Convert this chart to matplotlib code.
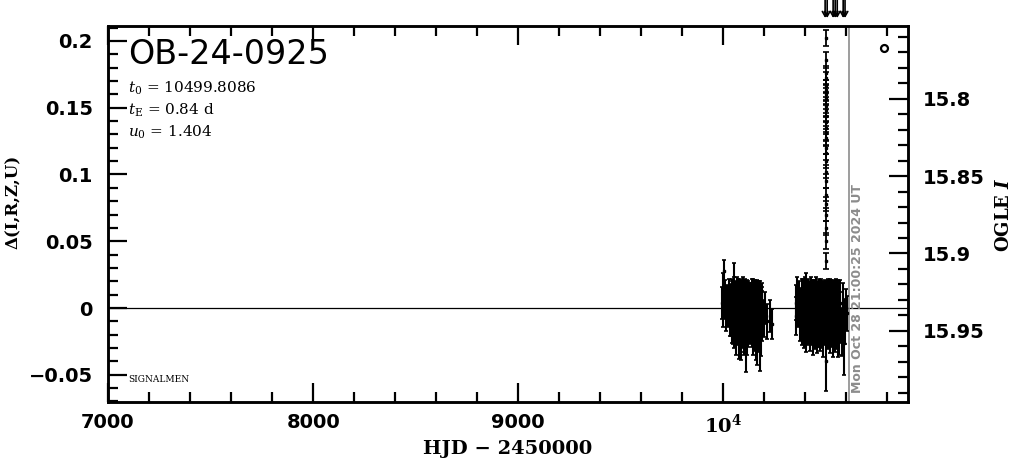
import matplotlib
matplotlib.use("Agg")
import matplotlib.pyplot as plt
import matplotlib.transforms as mtransforms
from matplotlib.ticker import MultipleLocator, FixedLocator, FixedFormatter

plt.rcParams['mathtext.fontset'] = 'dejavuserif'

# ---- data ----
# 2023 season
s1_early_t = [9993, 9996, 9999, 10003, 10006, 10010, 10014, 10018, 10022, 10026, 10030]
s1_early_d = [0.004, 0.012, -0.003, 0.028, 0.002, 0.008, -0.005, 0.006, 0.000, 0.010, -0.008]
s1_early_e = [0.012, 0.014, 0.011, 0.008, 0.010, 0.013, 0.012, 0.011, 0.014, 0.012, 0.013]

s1_main_t = [10036, 10038, 10040, 10042, 10044, 10046, 10048, 10050, 10052, 10054,
             10056, 10058, 10060, 10062, 10064, 10066, 10068, 10070, 10072, 10074,
             10076, 10078, 10080, 10082, 10084, 10086, 10088, 10090, 10092, 10094,
             10096, 10098, 10100, 10102, 10104, 10106, 10108, 10110, 10112, 10114,
             10116, 10118, 10120, 10122, 10124, 10126, 10128, 10130, 10132, 10134,
             10136, 10138, 10140, 10142, 10144, 10146, 10148, 10150, 10152, 10154,
             10156, 10158, 10160, 10162, 10164, 10166, 10168, 10170, 10172, 10174,
             10176, 10178, 10180, 10182, 10184, 10186, 10188, 10190]
s1_main_d = [0.002, -0.003, 0.005, -0.006, 0.001, -0.009, 0.004, 0.012, -0.011, 0.006,
             -0.005, 0.000, -0.013, 0.003, -0.007, 0.007, -0.002, -0.010, 0.005, -0.015,
             -0.004, 0.002, -0.008, 0.006, -0.012, -0.001, -0.017, 0.004, -0.006, -0.010,
             0.007, -0.003, -0.014, 0.002, -0.008, 0.004, -0.011, -0.020, -0.006, 0.005,
             -0.013, -0.003, 0.003, -0.009, 0.001, -0.005, 0.003, -0.007, -0.002, 0.002,
             -0.004, -0.009, 0.005, -0.013, -0.002, 0.006, -0.007, -0.011, 0.001, -0.005,
             0.004, -0.016, -0.003, 0.005, -0.008, -0.018, -0.012, 0.003, -0.006, 0.002,
             -0.010, 0.004, -0.020, -0.014, 0.001, -0.006, 0.003, -0.002]
s1_main_e = [0.016, 0.018, 0.017, 0.020, 0.019, 0.018, 0.016, 0.022, 0.019, 0.017,
             0.020, 0.018, 0.022, 0.017, 0.019, 0.016, 0.021, 0.018, 0.017, 0.023,
             0.018, 0.019, 0.020, 0.016, 0.021, 0.018, 0.022, 0.017, 0.019, 0.020,
             0.016, 0.018, 0.021, 0.019, 0.017, 0.018, 0.020, 0.028, 0.018, 0.016,
             0.022, 0.019, 0.017, 0.020, 0.018, 0.019, 0.016, 0.020, 0.018, 0.017,
             0.019, 0.020, 0.017, 0.022, 0.018, 0.016, 0.020, 0.021, 0.018, 0.019,
             0.017, 0.023, 0.018, 0.016, 0.020, 0.025, 0.021, 0.017, 0.019, 0.018,
             0.020, 0.016, 0.027, 0.022, 0.017, 0.019, 0.016, 0.018]

s1_late_t = [10196, 10205, 10215, 10228, 10238]
s1_late_d = [-0.008, 0.000, -0.010, -0.006, -0.012]
s1_late_e = [0.014, 0.012, 0.013, 0.012, 0.011]

# 2024 season
s2_early_t = [10352, 10356, 10360, 10364, 10368, 10372, 10376]
s2_early_d = [0.004, -0.006, 0.008, -0.002, 0.006, -0.010, 0.002]
s2_early_e = [0.013, 0.014, 0.015, 0.012, 0.014, 0.015, 0.013]

s2_main_t = [10380, 10382, 10384, 10386, 10388, 10390, 10392, 10394, 10396, 10398,
             10400, 10402, 10404, 10406, 10408, 10410, 10412, 10414, 10416, 10418,
             10420, 10422, 10424, 10426, 10428, 10430, 10432, 10434, 10436, 10438,
             10440, 10442, 10444, 10446, 10448, 10450, 10452, 10454, 10456, 10458,
             10460, 10462, 10464, 10466, 10468, 10470, 10472, 10474, 10476, 10478,
             10480, 10482, 10484, 10486, 10488, 10490, 10492, 10494, 10496, 10498,
             10502, 10504, 10506, 10508, 10510, 10512, 10514, 10516, 10518, 10520,
             10522, 10524, 10526, 10528, 10530, 10532, 10534, 10536, 10538, 10540,
             10542, 10544, 10546, 10548, 10550, 10552, 10554, 10556, 10558, 10560,
             10562, 10564, 10566, 10568, 10570]
s2_main_d = [-0.004, 0.006, -0.009, 0.002, -0.005, 0.005, -0.011, 0.001, -0.007, 0.007,
             -0.003, -0.013, 0.004, -0.006, 0.002, -0.010, 0.006, -0.004, -0.008, 0.003,
             -0.012, 0.000, -0.006, 0.007, -0.002, -0.010, 0.004, -0.005, -0.014, 0.003,
             -0.001, -0.008, 0.005, -0.011, 0.002, -0.004, 0.006, -0.009, -0.001, -0.013,
             0.004, -0.005, 0.001, -0.009, 0.005, -0.003, -0.012, 0.002, -0.007, 0.006,
             -0.002, -0.010, 0.003, -0.006, -0.015, 0.001, -0.004, 0.005, -0.008, 0.002,
             -0.040, 0.002, -0.008, 0.005, -0.003, -0.011, 0.002, -0.006, 0.006, -0.013,
             -0.002, 0.004, -0.009, 0.001, -0.005, -0.015, 0.003, -0.004, 0.005, -0.010,
             -0.001, 0.003, -0.012, -0.003, 0.006, -0.007, 0.000, -0.011, 0.004, -0.015,
             0.002, -0.014, -0.003, 0.004, -0.007]
s2_main_e = [0.017, 0.016, 0.019, 0.018, 0.020, 0.017, 0.019, 0.018, 0.021, 0.016,
             0.019, 0.020, 0.022, 0.017, 0.019, 0.018, 0.016, 0.020, 0.019, 0.017,
             0.020, 0.018, 0.019, 0.016, 0.021, 0.018, 0.017, 0.019, 0.021, 0.018,
             0.017, 0.019, 0.016, 0.020, 0.018, 0.019, 0.017, 0.020, 0.018, 0.021,
             0.016, 0.019, 0.018, 0.020, 0.017, 0.019, 0.020, 0.018, 0.019, 0.016,
             0.018, 0.020, 0.017, 0.019, 0.022, 0.018, 0.019, 0.016, 0.020, 0.018,
             0.022, 0.018, 0.019, 0.017, 0.019, 0.020, 0.018, 0.019, 0.016, 0.021,
             0.018, 0.017, 0.020, 0.018, 0.019, 0.022, 0.017, 0.019, 0.016, 0.020,
             0.018, 0.017, 0.021, 0.019, 0.016, 0.020, 0.018, 0.020, 0.017, 0.022,
             0.018, 0.021, 0.019, 0.017, 0.019]

s2_late_t = [10578, 10584, 10590, 10594, 10598, 10603]
s2_late_d = [-0.018, 0.004, -0.026, -0.010, 0.000, -0.004]
s2_late_e = [0.018, 0.015, 0.024, 0.017, 0.014, 0.013]

# the short event itself (t0 = 10499.8, tE = 0.84 d)
peak_t = [10499.6, 10499.65, 10499.7, 10499.72, 10499.74, 10499.76, 10499.78, 10499.8,
          10499.82, 10499.84, 10499.86, 10499.88, 10499.9, 10499.92, 10499.94, 10499.96,
          10499.98, 10500.0, 10500.02, 10500.05, 10500.08, 10500.1, 10500.15, 10500.2,
          10500.25, 10500.3]
peak_d = [0.035, 0.050, 0.060, 0.070, 0.078, 0.085, 0.095, 0.102, 0.110, 0.116, 0.120,
          0.127, 0.131, 0.135, 0.139, 0.144, 0.148, 0.151, 0.157, 0.160, 0.163, 0.166,
          0.172, 0.176, 0.186, 0.202]
peak_e = [0.006, 0.006, 0.005, 0.005, 0.005, 0.005, 0.005, 0.005, 0.005, 0.005, 0.005,
          0.005, 0.005, 0.005, 0.005, 0.005, 0.005, 0.005, 0.005, 0.005, 0.005, 0.005,
          0.005, 0.005, 0.006, 0.006]

offscale_t = [10496, 10506, 10535, 10545, 10555, 10584, 10593]

now_t = 10611.4
marker_t, marker_d = 10783, 0.195

xticks = [7000, 8000, 9000, 10000]
xticklabels = ['7000', '8000', '9000', r'$\mathbf{10^4}$']

event = "OB-24-0925"
params = [r"$t_0$ = 10499.8086", r"$t_{\rm E}$ = 0.84 d", r"$u_0$ = 1.404"]
datestr = "Mon Oct 28 21:00:25 2024 UT"

# ---- figure ----
fig = plt.figure(figsize=(10.11, 4.59), dpi=100)
ax = fig.add_axes([108/1011, 1-402/459, 800/1011, 376/459])

ekw = dict(fmt='s', ms=2, color='black', ecolor='black', elinewidth=1.5, capsize=1.5,
           capthick=1.2, linestyle='none')
for t, d, e in [(s1_early_t, s1_early_d, s1_early_e), (s1_main_t, s1_main_d, s1_main_e),
                (s1_late_t, s1_late_d, s1_late_e), (s2_early_t, s2_early_d, s2_early_e),
                (s2_main_t, s2_main_d, s2_main_e), (s2_late_t, s2_late_d, s2_late_e)]:
    ax.errorbar(t, d, yerr=e, **ekw)
ax.errorbar(peak_t, peak_d, yerr=peak_e, fmt='s', ms=2, color='black', ecolor='black',
            elinewidth=1.3, capsize=2, capthick=1.2, linestyle='none')

ax.axhline(0, color='black', lw=0.9, zorder=1)
ax.axvline(now_t, color='#8c8c8c', lw=1.2, zorder=1)
ax.plot([marker_t], [marker_d], 'o', ms=5, mfc='white', mec='black', mew=1.6)

ax.set_xlim(7000, 10900)
ax.set_ylim(-0.0704, 0.2112)

ax.xaxis.set_major_locator(FixedLocator(xticks))
ax.xaxis.set_major_formatter(FixedFormatter(xticklabels))
ax.xaxis.set_minor_locator(MultipleLocator(200))
ax.yaxis.set_major_locator(MultipleLocator(0.05))
ax.yaxis.set_minor_locator(MultipleLocator(0.01))
ax.yaxis.set_major_formatter(plt.FuncFormatter(lambda v, p: ('%g' % round(v, 3)).replace('-', '\u2212')))

for s in ax.spines.values():
    s.set_linewidth(1.8)

ax.tick_params(which='both', direction='in', top=True, right=False, width=1.6)
ax.tick_params(which='major', length=14)
ax.tick_params(which='minor', length=7)
ax.tick_params(axis='y', pad=11)
ax.tick_params(axis='x', pad=8)
for lab in ax.get_xticklabels() + ax.get_yticklabels():
    lab.set_fontfamily('DejaVu Sans')
    lab.set_fontweight('bold')
    lab.set_fontsize(14)

ax2 = ax.twinx()
ax2.set_ylim(15.996, 15.753)
ax2.yaxis.set_major_locator(MultipleLocator(0.05))
ax2.yaxis.set_minor_locator(MultipleLocator(0.01))
ax2.yaxis.set_major_formatter(plt.FuncFormatter(lambda v, p: '%g' % round(v, 3)))
ax2.tick_params(which='both', direction='in', width=1.6, pad=11)
ax2.tick_params(which='major', length=14)
ax2.tick_params(which='minor', length=7)
for lab in ax2.get_yticklabels():
    lab.set_fontfamily('DejaVu Sans')
    lab.set_fontweight('bold')
    lab.set_fontsize(14)
for s in ax2.spines.values():
    s.set_linewidth(1.8)

ax.set_xlabel("HJD \u2212 2450000", fontfamily='DejaVu Serif', fontweight='bold', fontsize=14)
ax.xaxis.set_label_coords(0.5, -(449-402)/376)
ax.xaxis.label.set_va('center')
ax.set_ylabel("\u0394(I,R,Z,U)", fontfamily='DejaVu Serif', fontweight='bold', fontsize=12)
ax.yaxis.set_label_coords((13-108)/800, 1-(202-26)/376)
ax.yaxis.label.set_va('center')
ax2.set_ylabel(r"OGLE $\mathbfit{I}$", fontfamily='DejaVu Serif', fontweight='bold', fontsize=13)
ax2.yaxis.set_label_coords((1004-108)/800, 1-(215-26)/376)
ax2.yaxis.label.set_va('center')

# text in axes
ax.text(20/800, 1-29/376, event, transform=ax.transAxes, fontsize=24,
        fontfamily='DejaVu Sans', va='center', ha='left')
for i, p in enumerate(params):
    ax.text(20/800, 1-(62+22*i)/376, p, transform=ax.transAxes, fontsize=11,
            fontfamily='DejaVu Serif', va='center', ha='left')
ax.text(20/800, 1-(380-26)/376, "SIGNALMEN", transform=ax.transAxes, fontsize=6.5,
        fontfamily='DejaVu Serif', va='center', ha='left')

trans_dt = mtransforms.offset_copy(mtransforms.blended_transform_factory(ax.transData, ax.transAxes),
                                   fig=fig, x=2, y=0, units='dots')
ax.text(now_t, 0.025, datestr, transform=trans_dt, rotation=90, ha='left', va='bottom',
        fontsize=9, fontweight='bold', color='#8c8c8c', fontfamily='DejaVu Sans')

# off-scale arrows above the frame
trans_ar = mtransforms.blended_transform_factory(ax.transData, fig.transFigure)
for t in offscale_t:
    ax.annotate('', xy=(t, 1-18/459), xytext=(t, 1.0), xycoords=trans_ar, textcoords=trans_ar,
                arrowprops=dict(arrowstyle='->,head_length=0.35,head_width=0.2', lw=1.2,
                                color='black', shrinkA=0, shrinkB=0),
                annotation_clip=False)

fig.savefig("out.png", dpi=100)
